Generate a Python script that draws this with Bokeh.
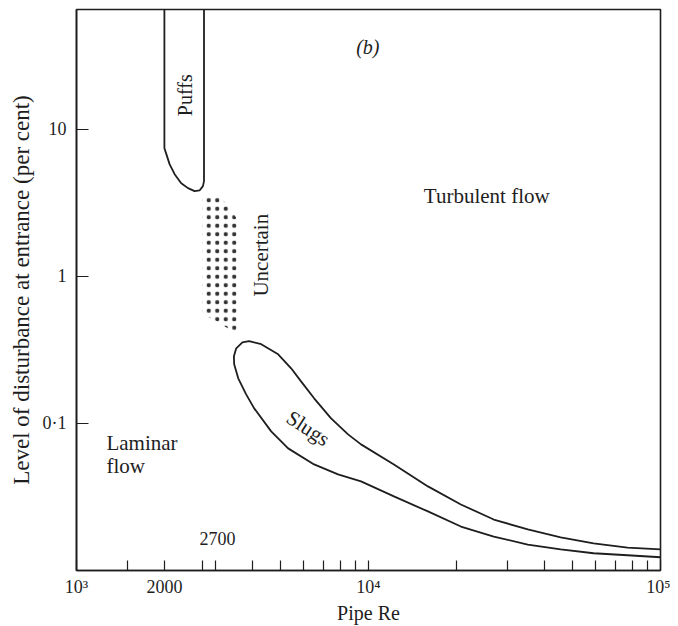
import math
from bokeh.plotting import figure
from bokeh.models import FixedTicker
from bokeh.core.properties import value
from bokeh.embed import file_html
from bokeh.resources import INLINE

# ---------------- data ----------------
# Puffs region boundary (Pipe Re, level of disturbance %)
puffs_re = [2000, 2000, 2031, 2083, 2168, 2284, 2409, 2538, 2639, 2710, 2733, 2733]
puffs_level = [65, 7.42, 6.76, 5.78, 4.94, 4.29, 3.97, 3.79, 3.83, 4.10, 4.43, 65]

# Slugs region boundary: upper branch (right -> left), then lower branch (left -> right)
slugs_re = [100000, 77110, 59020, 45520, 35110, 26850, 20720, 15980, 12220, 9427,
            8511, 7445, 6512, 5875, 5433, 4905, 4291, 3900, 3700, 3524, 3460,
            3467, 3580, 3811, 4060, 4642, 5306, 6512, 7866, 9427, 12220, 15980,
            20720, 26850, 35110, 45520, 59020, 77110, 100000]
slugs_level = [0.0139, 0.0143, 0.0153, 0.0168, 0.0190, 0.0222, 0.0281, 0.0373, 0.0526, 0.0720,
               0.0842, 0.108, 0.148, 0.193, 0.2367, 0.2946, 0.345, 0.362, 0.355, 0.3237, 0.2855,
               0.252, 0.2024, 0.1575, 0.1265, 0.0882, 0.0676, 0.0526, 0.0450, 0.0403, 0.0319, 0.0252,
               0.0199, 0.0170, 0.0150, 0.0139, 0.0131, 0.0127, 0.0123]

# Uncertain (dotted) region
unc_re = [2697, 2941, 3131, 3335, 3551, 3551, 3335, 3131, 2941, 2697]
unc_level = [3.67, 3.56, 3.39, 2.95, 2.44, 0.41, 0.436, 0.472, 0.51, 0.551]

# Axis ticks and labels
x_ticks = [1000, 1500, 2000, 2700, 3000, 4000, 5000, 6000, 7000, 8000, 9000,
           10000, 20000, 30000, 40000, 50000, 60000, 70000, 80000, 90000, 100000]
x_tick_labels = {1000: "10³", 2000: "2000", 10000: "10⁴", 100000: "10⁵"}
y_ticks = [0.1, 1, 10]
y_tick_labels = {0.1: "0·1", 1: "1", 10: "10"}

# ---------------- figure ----------------
INK = "#1e1e1e"
SERIF = "Liberation Serif"

p = figure(x_axis_type="log", y_axis_type="log",
           x_range=(1000, 100000), y_range=(0.01, 65),
           frame_width=584, frame_height=561,
           min_border_left=76, min_border_top=9, min_border_right=10, min_border_bottom=50,
           output_backend="svg", toolbar_location=None)

p.background_fill_color = "white"
p.border_fill_color = "white"
p.outline_line_color = INK
p.outline_line_width = 1.6
p.xgrid.visible = False
p.ygrid.visible = False

xa = p.xaxis[0]
xa.ticker = FixedTicker(ticks=x_ticks)
xa.major_label_overrides = {t: x_tick_labels.get(t, "") for t in x_ticks}
xa.major_tick_in = 10
xa.major_tick_out = 0
xa.minor_tick_line_color = None
xa.axis_line_color = INK
xa.axis_line_width = 1.6
xa.major_tick_line_color = INK
xa.major_tick_line_width = 1.2
xa.major_label_text_font = SERIF
xa.major_label_text_font_size = "18px"
xa.major_label_text_color = INK
xa.major_label_standoff = 6
xa.axis_label = "Pipe Re"
xa.axis_label_text_font = SERIF
xa.axis_label_text_font_size = "20px"
xa.axis_label_text_font_style = "normal"
xa.axis_label_text_color = INK
xa.axis_label_standoff = 2

ya = p.yaxis[0]
ya.ticker = FixedTicker(ticks=y_ticks)
ya.major_label_overrides = y_tick_labels
ya.major_tick_in = 12
ya.major_tick_out = 0
ya.minor_tick_line_color = None
ya.axis_line_color = INK
ya.axis_line_width = 1.6
ya.major_tick_line_color = INK
ya.major_tick_line_width = 1.2
ya.major_label_text_font = SERIF
ya.major_label_text_font_size = "18px"
ya.major_label_text_color = INK
ya.major_label_standoff = 10
ya.axis_label = "Level of disturbance at entrance (per cent)"
ya.axis_label_text_font = SERIF
ya.axis_label_text_font_size = "23px"
ya.axis_label_text_font_style = "normal"
ya.axis_label_text_color = INK
ya.axis_label_standoff = 6

# ---------------- regions ----------------
p.line(puffs_re, puffs_level, line_color=INK, line_width=1.8)
p.line(slugs_re, slugs_level, line_color=INK, line_width=1.8)
p.patch(unc_re, unc_level, fill_color=None, line_color=None,
        hatch_pattern="dot", hatch_color="#333333", hatch_scale=8.5, hatch_weight=0.4)

# ---------------- annotations ----------------
def txt(x, y, s, angle=0.0, align="center", size="21px", style="normal", xo=0):
    p.text(x=[x], y=[y], text=[s], angle=angle, x_offset=xo,
           text_font=value(SERIF), text_font_size=size, text_font_style=style,
           text_color=INK, text_align=align, text_baseline="middle")

txt(2359, 17.0, "Puffs", angle=math.pi / 2, size="20px")
txt(4285, 1.39, "Uncertain", angle=math.pi / 2)
txt(25410, 3.50, "Turbulent flow")
txt(6209, 0.0925, "Slugs", angle=-0.576)
txt(1266, 0.0731, "Laminar", align="left")
txt(1266, 0.0510, "flow", align="left")
txt(9950, 36.1, "(b)", style="italic", size="20px")
txt(2700, 0.0165, "2700", align="left", size="18px", xo=-3)

open("out.html", "w").write(file_html(p, INLINE))
